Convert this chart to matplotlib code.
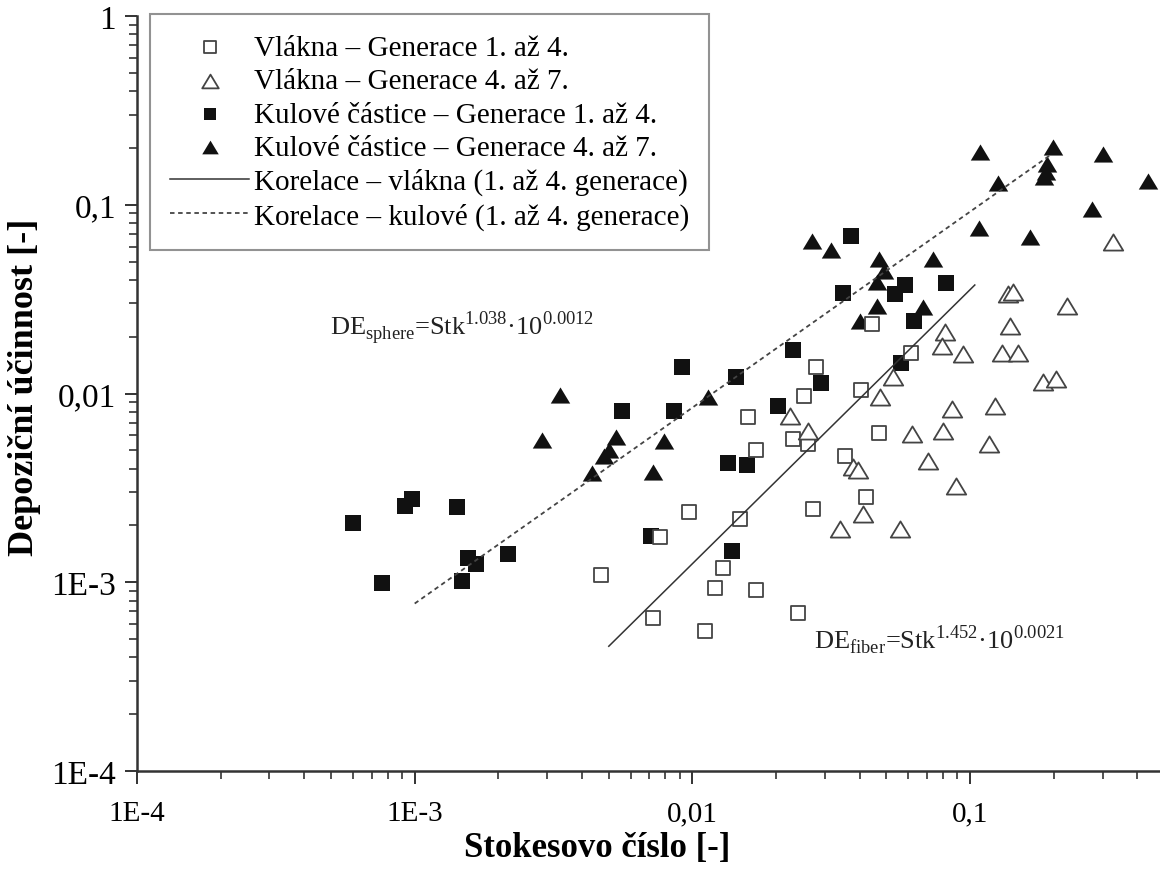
import numpy as np
import matplotlib.pyplot as plt
from matplotlib.path import Path
from matplotlib.ticker import FixedLocator, LogLocator, NullFormatter

plt.rcParams['font.family'] = ['Liberation Serif', 'DejaVu Serif']
plt.rcParams['mathtext.fontset'] = 'custom'
plt.rcParams['mathtext.rm'] = 'Liberation Serif'

# Vlakna - generace 1. az 4. (open squares)
fib14_stk = [7.66e-3, 4.69e-3, 7.23e-3, 0.0404, 0.0252, 0.0158, 0.0230, 0.0260,
             0.0170, 0.0354, 0.0469, 0.0421, 0.0271, 0.0149, 9.75e-3, 0.0129,
             0.0121, 0.0169, 0.0111, 0.0241, 0.0278, 0.0443, 0.0612]
fib14_de = [1.73e-3, 1.09e-3, 6.5e-4, 0.0105, 9.67e-3, 7.48e-3, 5.72e-3, 5.38e-3,
            5.0e-3, 4.65e-3, 6.16e-3, 2.82e-3, 2.44e-3, 2.16e-3, 2.35e-3, 1.19e-3,
            9.3e-4, 9.07e-4, 5.5e-4, 6.86e-4, 0.0138, 0.0233, 0.0163]

# Vlakna - generace 4. az 7. (open triangles)
fib47_stk = [0.0473, 0.0224, 0.0260, 0.0861, 0.123, 0.0617, 0.0799, 0.117,
             0.0705, 0.0378, 0.0394, 0.089, 0.0411, 0.0339, 0.0559, 0.0527,
             0.1835, 0.2044, 0.326, 0.137, 0.143, 0.224, 0.139, 0.0812,
             0.0793, 0.0945, 0.1305, 0.149]
fib47_de = [9.55e-3, 7.58e-3, 6.31e-3, 8.25e-3, 8.56e-3, 6.08e-3, 6.31e-3, 5.38e-3,
            4.37e-3, 4.07e-3, 3.92e-3, 3.23e-3, 2.29e-3, 1.91e-3, 1.91e-3, 0.0122,
            0.0115, 0.0119, 0.0633, 0.0336, 0.0344, 0.0290, 0.0227, 0.0211,
            0.0178, 0.0161, 0.0163, 0.0163]

# Kulove castice - generace 1. az 4. (filled squares)
sph14_stk = [6.0e-4, 9.8e-4, 9.2e-4, 1.42e-3, 7.6e-4, 2.17e-3, 1.55e-3, 1.66e-3,
             1.48e-3, 5.6e-3, 8.6e-3, 7.1e-3, 0.0144, 0.029, 0.0203, 0.0134,
             0.0157, 0.0139, 9.2e-3, 0.0230, 0.0348, 0.0372, 0.0582, 0.0536,
             0.0818, 0.0628, 0.0564]
sph14_de = [2.05e-3, 2.75e-3, 2.53e-3, 2.50e-3, 9.9e-4, 1.42e-3, 1.34e-3, 1.25e-3,
            1.01e-3, 8.05e-3, 8.05e-3, 1.75e-3, 0.0122, 0.0113, 8.6e-3, 4.3e-3,
            4.2e-3, 1.46e-3, 0.0139, 0.0169, 0.034, 0.068, 0.0375, 0.0336,
            0.0384, 0.0242, 0.0145]

# Kulove castice - generace 4. az 7. (filled triangles)
sph47_stk = [3.34e-3, 2.87e-3, 5.32e-3, 5.02e-3, 4.81e-3, 4.36e-3, 7.9e-3, 7.2e-3,
             0.0114, 0.0269, 0.0315, 0.0735, 0.0469, 0.0489, 0.0461, 0.0461,
             0.0676, 0.0401, 0.1086, 0.199, 0.300, 0.436, 0.126, 0.190,
             0.187, 0.184, 0.274, 0.108, 0.165]
sph47_de = [9.8e-3, 5.7e-3, 5.9e-3, 5.0e-3, 4.65e-3, 3.78e-3, 5.6e-3, 3.83e-3,
            9.55e-3, 0.0641, 0.0574, 0.0514, 0.0514, 0.0444, 0.0388, 0.0290,
            0.0286, 0.0241, 0.190, 0.202, 0.185, 0.133, 0.130, 0.164,
            0.149, 0.140, 0.0946, 0.0751, 0.0673]

# correlations DE = Stk^a * 10^b and their Stk ranges
fiber_a, fiber_b, fiber_range = 1.452, 0.0021, (0.005, 0.104)
sphere_a, sphere_b, sphere_range = 1.038, 0.0012, (0.001, 0.195)

tick_vals = [1e-4, 1e-3, 1e-2, 1e-1, 1]
tick_labels = ['1E-4', '1E-3', '0,01', '0,1', '1']

labels = ['Vlákna – Generace 1. až 4.', 'Vlákna – Generace 4. až 7.',
          'Kulové částice – Generace 1. až 4.', 'Kulové částice – Generace 4. až 7.',
          'Korelace – vlákna (1. až 4. generace)', 'Korelace – kulové (1. až 4. generace)']

tri = Path([(-1, -0.83), (1, -0.83), (0, 0.83), (-1, -0.83)],
           [Path.MOVETO, Path.LINETO, Path.LINETO, Path.CLOSEPOLY])

fig = plt.figure(figsize=(11.6, 8.7), dpi=100)
ax = fig.add_axes([137 / 1160, 1 - 772 / 870, 1023 / 1160, 755 / 870])
ax.set_xscale('log')
ax.set_yscale('log')

sq_size = 11 ** 2
tri_size = 14 ** 2
h3 = ax.scatter(sph14_stk, sph14_de, marker='s', s=sq_size, c='#111111', lw=0, label=labels[2], zorder=3)
h4 = ax.scatter(sph47_stk, sph47_de, marker=tri, s=tri_size, c='#111111', lw=0, label=labels[3], zorder=3)
h1 = ax.scatter(fib14_stk, fib14_de, marker='s', s=sq_size * 0.85, facecolor='white',
                edgecolor='#444444', lw=1.3, label=labels[0], zorder=4)
h2 = ax.scatter(fib47_stk, fib47_de, marker=tri, s=tri_size, facecolor='white',
                edgecolor='#444444', lw=1.3, label=labels[1], zorder=4)

xf = np.logspace(np.log10(fiber_range[0]), np.log10(fiber_range[1]), 50)
h5, = ax.plot(xf, xf ** fiber_a * 10 ** fiber_b, color='#333333', lw=1.1, label=labels[4], zorder=5)
xs = np.logspace(np.log10(sphere_range[0]), np.log10(sphere_range[1]), 50)
h6, = ax.plot(xs, xs ** sphere_a * 10 ** sphere_b, color='#444444', lw=1.3,
              ls=(0, (2.5, 2)), label=labels[5], zorder=5)

ax.set_xlim(1e-4, 0.483)
ax.set_ylim(1e-4, 1)

ax.xaxis.set_major_locator(FixedLocator(tick_vals[:4]))
ax.set_xticklabels(tick_labels[:4])
ax.yaxis.set_major_locator(FixedLocator(tick_vals))
ax.set_yticklabels(tick_labels)
for axis in (ax.xaxis, ax.yaxis):
    axis.set_minor_locator(LogLocator(base=10, subs=np.arange(2, 10)))
    axis.set_minor_formatter(NullFormatter())

ax.tick_params(which='major', length=9, width=1.4, color='#333333')
ax.tick_params(which='minor', length=6, width=1.2, color='#333333')
ax.tick_params(axis='x', labelsize=21, pad=12)
ax.tick_params(axis='y', labelsize=24, pad=6)

for s in ('top', 'right'):
    ax.spines[s].set_visible(False)
for s in ('left', 'bottom'):
    ax.spines[s].set_linewidth(1.8)
    ax.spines[s].set_color('#333333')

ax.set_xlabel('Stokesovo číslo [-]', fontsize=25, fontweight='bold')
ax.xaxis.set_label_coords(0.45, -0.08)
ax.set_ylabel('Depoziční účinnost [-]', fontsize=26, fontweight='bold', va='center')
ax.yaxis.set_label_coords(-0.11, 0.51)

ax.text(4.97e-4, 0.0206, r'DE$_{\mathrm{sphere}}$=Stk$^{\mathrm{1.038}}$·10$^{\mathrm{0.0012}}$',
        fontsize=19, ha='left', va='baseline', color='#222222')
ax.text(0.0274, 4.47e-4, r'DE$_{\mathrm{fiber}}$=Stk$^{\mathrm{1.452}}$·10$^{\mathrm{0.0021}}$',
        fontsize=19, ha='left', va='baseline', color='#222222')

leg = ax.legend(handles=[h1, h2, h3, h4, h5, h6], loc='upper left',
                bbox_to_anchor=(150 / 1160, 1 - 15 / 870), bbox_transform=fig.transFigure,
                borderaxespad=0, fontsize=21, frameon=True, fancybox=False,
                handlelength=2.7, handletextpad=0.15, labelspacing=0.24, borderpad=0.7,
                scatterpoints=1, markerscale=0.85)
leg.get_frame().set_edgecolor('#777777')
leg.get_frame().set_linewidth(1.5)

fig.savefig('out.png', dpi=100)
